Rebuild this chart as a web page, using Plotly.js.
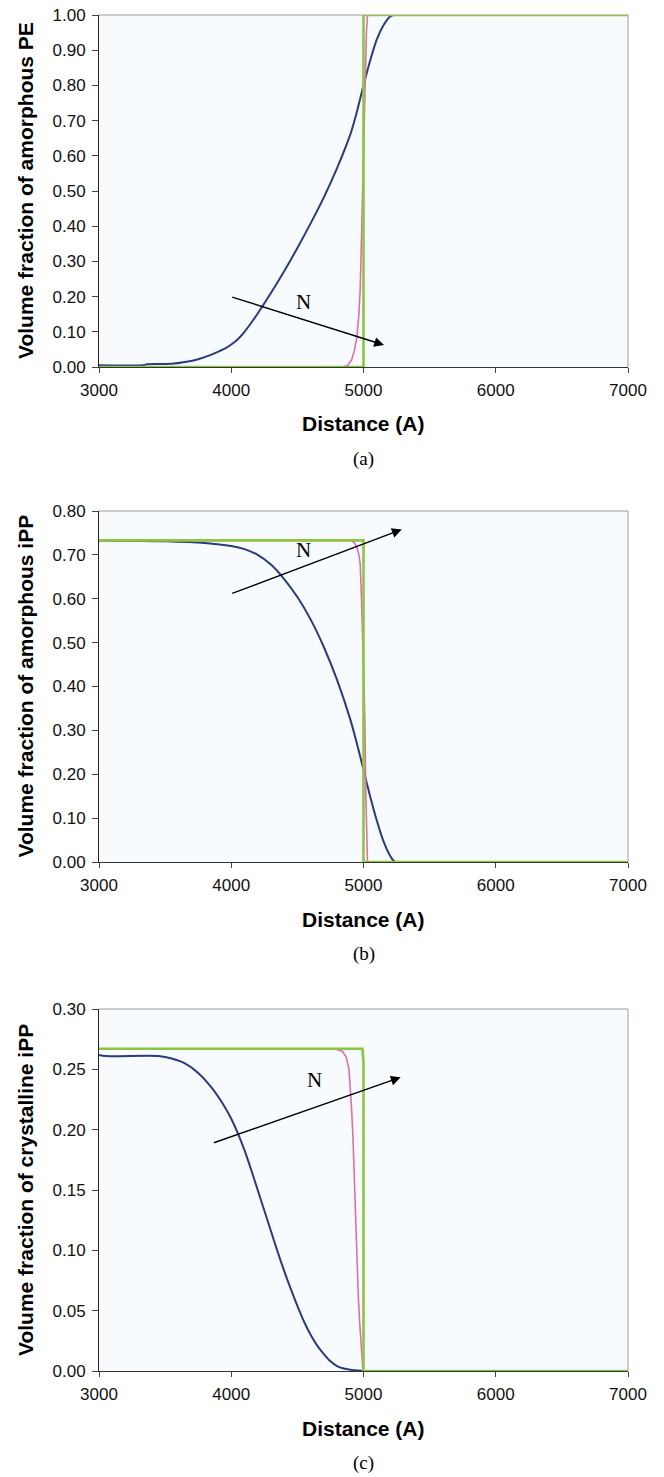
<!DOCTYPE html>
<html>
<head>
<meta charset="utf-8">
<script src="https://cdn.plot.ly/plotly-3.0.1.min.js"></script>
<style>
  html, body { margin: 0; padding: 0; background: #ffffff; }
  #chart { width: 664px; height: 1477px; }
</style>
</head>
<body>
<div id="chart"></div>
<script>
// ---------- (a) volume fraction of amorphous PE ----------
const peLowX   = [3000, 3350, 3360, 3550, 3650, 3750, 3850, 3950, 4000, 4050, 4100, 4150, 4200, 4300, 4400, 4500, 4600, 4700, 4800, 4900, 4950, 5000, 5050, 5100, 5150, 5200, 5230, 7000];
const peLowY   = [0.005, 0.006, 0.008, 0.009, 0.014, 0.022, 0.035, 0.052, 0.064, 0.079, 0.100, 0.125, 0.152, 0.210, 0.272, 0.338, 0.408, 0.482, 0.565, 0.660, 0.725, 0.800, 0.870, 0.930, 0.970, 0.995, 1.000, 1.000];
const peMidX   = [3000, 4840, 4880, 4910, 4930, 4950, 4965, 4975, 4985, 4995, 5005, 5015, 5022, 5030, 7000];
const peMidY   = [0, 0, 0.005, 0.020, 0.045, 0.085, 0.150, 0.220, 0.370, 0.550, 0.720, 0.860, 0.950, 1.000, 1.000];
const peHighX  = [3000, 5000, 5000, 7000];
const peHighY  = [0, 0, 1, 1];

// ---------- (b) volume fraction of amorphous iPP ----------
const aiLowX   = [3000, 3500, 3800, 4000, 4100, 4200, 4300, 4400, 4500, 4600, 4700, 4800, 4900, 4950, 5000, 5050, 5100, 5150, 5200, 5240, 7000];
const aiLowY   = [0.733, 0.731, 0.727, 0.720, 0.713, 0.700, 0.678, 0.645, 0.604, 0.553, 0.490, 0.415, 0.325, 0.270, 0.210, 0.150, 0.095, 0.048, 0.015, 0, 0];
const aiMidX   = [3000, 4900, 4930, 4950, 4965, 4975, 4985, 4995, 5010, 5018, 5024, 5030, 7000];
const aiMidY   = [0.733, 0.733, 0.728, 0.718, 0.700, 0.680, 0.600, 0.480, 0.330, 0.150, 0.050, 0, 0];
const aiHighX  = [3000, 5000, 5000, 7000];
const aiHighY  = [0.733, 0.733, 0, 0];

// ---------- (c) volume fraction of crystalline iPP ----------
const ciLowX   = [3000, 3050, 3450, 3550, 3650, 3750, 3850, 3950, 4000, 4050, 4100, 4150, 4200, 4250, 4300, 4350, 4400, 4450, 4500, 4550, 4600, 4650, 4700, 4750, 4800, 4850, 4900, 4950, 5000, 7000];
const ciLowY   = [0.262, 0.261, 0.261, 0.259, 0.255, 0.247, 0.235, 0.219, 0.209, 0.197, 0.183, 0.167, 0.150, 0.133, 0.116, 0.099, 0.083, 0.068, 0.054, 0.041, 0.030, 0.021, 0.014, 0.008, 0.004, 0.002, 0.001, 0.0005, 0, 0];
const ciMidX   = [3000, 4780, 4840, 4870, 4890, 4900, 4910, 4920, 4930, 4940, 4950, 4960, 4970, 4980, 4990, 4996, 7000];
const ciMidY   = [0.267, 0.267, 0.265, 0.260, 0.250, 0.237, 0.217, 0.195, 0.160, 0.123, 0.092, 0.064, 0.042, 0.022, 0.007, 0, 0];
const ciHighX  = [3000, 4992, 5000, 5000, 7000];
const ciHighY  = [0.267, 0.267, 0.256, 0, 0];

// shared tick labels and axis texts
const distTicks   = [3000, 4000, 5000, 6000, 7000];
const yTitles     = ["Volume fraction of amorphous PE", "Volume fraction of amorphous iPP", "Volume fraction of crystalline iPP"];
const yMax        = [1.0, 0.8, 0.3];
const yStep       = [0.1, 0.1, 0.05];
const captions    = ["(a)", "(b)", "(c)"];
const xTitle      = "Distance (A)";

// direction of increasing N: [tailX, tailY, tipX, tipY] and label position [x, y]
const arrowA = [3996, 0.200, 5155, 0.0625];
const arrowB = [3996, 0.611, 5289, 0.758];
const arrowC = [3857, 0.1887, 5281, 0.2434];
const labelN = [[4550, 0.185], [4550, 0.711], [4633, 0.241]];

const NAVY = "#2c3a7e", PINK = "#e06cb2", GREEN = "#8cc63f";
const SANS = "Liberation Sans, Arial, sans-serif";
const SERIF = "Liberation Serif, Times New Roman, serif";

// page geometry (pixels)
const W = 664, H = 1477;
const plotLeft = 99, plotRight = 628;
const tops = [15, 511, 1009];
const bottoms = [367, 862, 1371];

const series = [
  [[peLowX, peLowY], [peMidX, peMidY], [peHighX, peHighY]],
  [[aiLowX, aiLowY], [aiMidX, aiMidY], [aiHighX, aiHighY]],
  [[ciLowX, ciLowY], [ciMidX, ciMidY], [ciHighX, ciHighY]]
];
const styles = [
  { color: NAVY, width: 2, shape: "spline", smoothing: 0.8 },
  { color: PINK, width: 1.6, shape: "linear" },
  { color: GREEN, width: 2.6, shape: "linear" }
];
const arrows = [arrowA, arrowB, arrowC];

const data = [];
const layout = {
  width: W, height: H,
  margin: { l: 0, r: 0, t: 0, b: 0 },
  paper_bgcolor: "#ffffff",
  plot_bgcolor: "#f7fbfd",
  showlegend: false,
  font: { family: SANS, color: "#111111" },
  annotations: [],
  shapes: []
};

for (let i = 0; i < 3; i++) {
  const sx = i === 0 ? "" : String(i + 1);
  const xa = "x" + sx, ya = "y" + sx;

  series[i].forEach((s, k) => {
    const line = { color: styles[k].color, width: styles[k].width, shape: styles[k].shape };
    if (styles[k].smoothing) line.smoothing = styles[k].smoothing;
    data.push({
      type: "scatter", mode: "lines",
      x: s[0], y: s[1],
      xaxis: xa, yaxis: ya,
      line: line,
      hoverinfo: "skip"
    });
  });

  layout["xaxis" + sx] = {
    domain: [plotLeft / W, plotRight / W],
    anchor: ya,
    range: [3000, 7000],
    tickvals: distTicks,
    ticktext: distTicks.map(String),
    ticks: "outside", ticklen: 5, tickwidth: 1, tickcolor: "#444444",
    showline: true, linecolor: "#333333", linewidth: 1, mirror: false,
    showgrid: false, zeroline: false,
    tickfont: { family: SANS, size: 17, color: "#111111" },
    ticklabelstandoff: 3,
    fixedrange: true
  };

  const yt = [];
  for (let v = 0; v <= yMax[i] + 1e-9; v += yStep[i]) yt.push(+v.toFixed(2));
  layout["yaxis" + sx] = {
    domain: [1 - bottoms[i] / H, 1 - tops[i] / H],
    anchor: xa,
    range: [0, yMax[i]],
    tickvals: yt,
    tickformat: ".2f",
    ticks: "outside", ticklen: 6, tickwidth: 1, tickcolor: "#444444",
    showline: true, linecolor: "#222222", linewidth: 1, mirror: false,
    showgrid: false, zeroline: false,
    tickfont: { family: SANS, size: 17, color: "#111111" },
    ticklabelstandoff: 3,
    fixedrange: true
  };

  // light frame on the top and right of each plot area
  layout.shapes.push(
    { type: "line", xref: xa + " domain", yref: ya + " domain", x0: 0, x1: 1, y0: 1, y1: 1, line: { color: "#9c9c9c", width: 1 }, layer: "below" },
    { type: "line", xref: xa + " domain", yref: ya + " domain", x0: 1, x1: 1, y0: 0, y1: 1, line: { color: "#9c9c9c", width: 1 }, layer: "below" }
  );

  const midY = 1 - (tops[i] + bottoms[i]) / 2 / H;
  layout.annotations.push(
    { // vertical axis title
      xref: "paper", yref: "paper", x: 25 / W, y: midY,
      xanchor: "center", yanchor: "middle", textangle: -90, showarrow: false,
      text: "<b>" + yTitles[i] + "</b>",
      font: { family: SANS, size: 21, color: "#000000" }
    },
    { // horizontal axis title
      xref: "paper", yref: "paper", x: (plotLeft + plotRight) / 2 / W, y: 1 - (bottoms[i] + 57) / H,
      xanchor: "center", yanchor: "middle", showarrow: false,
      text: "<b>" + xTitle + "</b>",
      font: { family: SANS, size: 21, color: "#000000" }
    },
    { // panel caption
      xref: "paper", yref: "paper", x: (plotLeft + plotRight) / 2 / W, y: 1 - (bottoms[i] + 92) / H,
      xanchor: "center", yanchor: "middle", showarrow: false,
      text: captions[i],
      font: { family: SERIF, size: 19, color: "#000000" }
    },
    { // arrow showing increasing N
      xref: xa, yref: ya, axref: xa, ayref: ya,
      x: arrows[i][2], y: arrows[i][3], ax: arrows[i][0], ay: arrows[i][1],
      text: "", showarrow: true, arrowhead: 2, arrowsize: 1.4, arrowwidth: 1.4, arrowcolor: "#000000",
      standoff: 0, startstandoff: 0
    },
    {
      xref: xa, yref: ya, x: labelN[i][0], y: labelN[i][1],
      xanchor: "center", yanchor: "middle", showarrow: false,
      text: "N",
      font: { family: SERIF, size: 21, color: "#000000" }
    }
  );
}

Plotly.newPlot("chart", data, layout, { staticPlot: true, displayModeBar: false });
</script>
</body>
</html>
